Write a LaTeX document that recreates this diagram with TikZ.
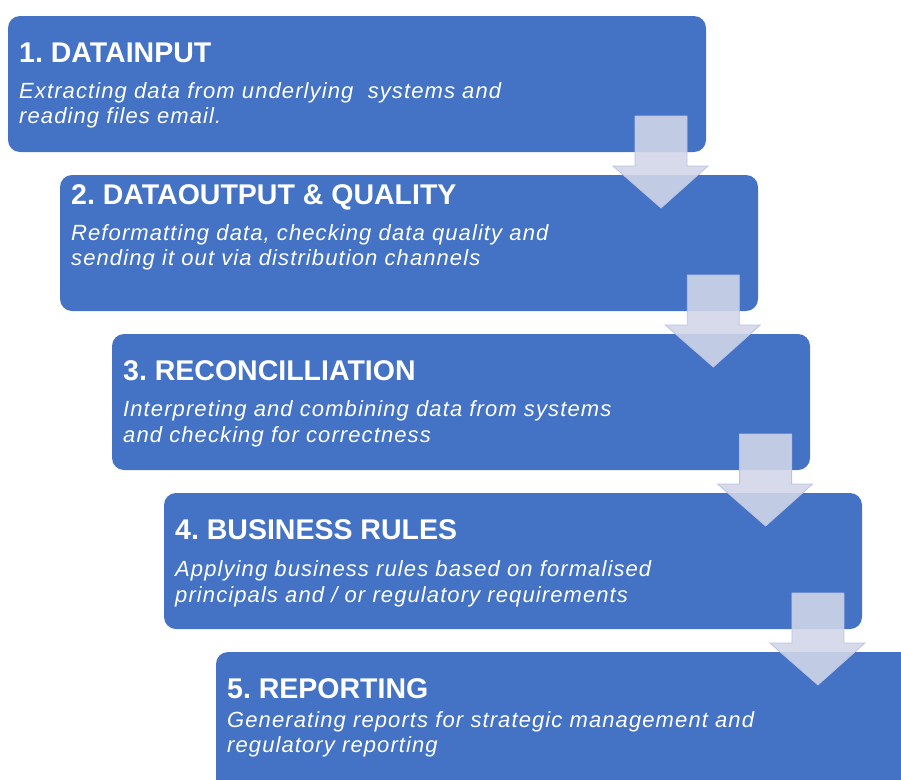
\documentclass[tikz,border=0pt]{standalone}
\usepackage{fontspec}
\setmainfont{Liberation Sans}
\newfontfamily\dscfont[LetterSpace=5]{Liberation Sans}
\definecolor{boxblue}{RGB}{68,114,196}
\definecolor{arrowfill}{RGB}{210,214,233}
\definecolor{arrowedge}{RGB}{186,195,228}
\tikzset{
  stepbox/.style={fill=boxblue, rounded corners=12pt, draw=none},
  ttl/.style={anchor=base west, inner sep=0pt, text=white, font=\fontsize{28.5}{32}\selectfont\bfseries\frenchspacing},
  dsc/.style={anchor=base west, inner sep=0pt, text=white, font=\dscfont\fontsize{22}{25}\selectfont\itshape\frenchspacing},
  downarrow/.style={fill=arrowfill, fill opacity=0.89, draw=arrowedge, line width=0.8pt, line join=miter}
}
\begin{document}
\begin{tikzpicture}[x=1pt,y=-1pt]
\useasboundingbox (0,0) rectangle (901,779);
\clip (0,0) rectangle (901,779);
% boxes
\path[stepbox] (8,16) rectangle (706,152);
\path[stepbox] (60,175) rectangle (758,311);
\path[stepbox] (112,334) rectangle (810,470);
\path[stepbox] (164,493) rectangle (862,629);
\path[stepbox] (216,652) rectangle (930,810);
% texts
\node[ttl] (t1) at (19,62) {1. DATAINPUT};
\node[dsc] (d1a) at (19,98) {Extracting data from underlying \ systems and};
\node[dsc] (d1b) at (19,123) {reading files email.};
\node[ttl] (t2) at (71,204) {2. DATAOUTPUT \& QUALITY};
\node[dsc] (d2a) at (71,240) {Reformatting data, checking data quality and};
\node[dsc] (d2b) at (71,265) {sending it out via distribution channels};
\node[ttl] (t3) at (123,380) {3. RECONCILLIATION};
\node[dsc] (d3a) at (123,416) {Interpreting and combining data from systems};
\node[dsc] (d3b) at (123,442) {and checking for correctness};
\node[ttl] (t4) at (175,539) {4. BUSINESS RULES};
\node[dsc] (d4a) at (175,576) {Applying business rules based on formalised};
\node[dsc] (d4b) at (175,602) {principals and / or regulatory requirements};
\node[ttl] (t5) at (227,698) {5. REPORTING};
\node[dsc] (d5a) at (227,727) {Generating reports for strategic management and};
\node[dsc] (d5b) at (227,752) {regulatory reporting};
% arrows
\foreach \i in {0,1,2,3}{
  \begin{scope}[shift={(52.3*\i,159*\i)}]
    \path[downarrow] (635,116) -- (687,116) -- (687,166) -- (708,166) -- (661,208) -- (613,166) -- (635,166) -- cycle;
  \end{scope}
}
\end{tikzpicture}
\end{document}
